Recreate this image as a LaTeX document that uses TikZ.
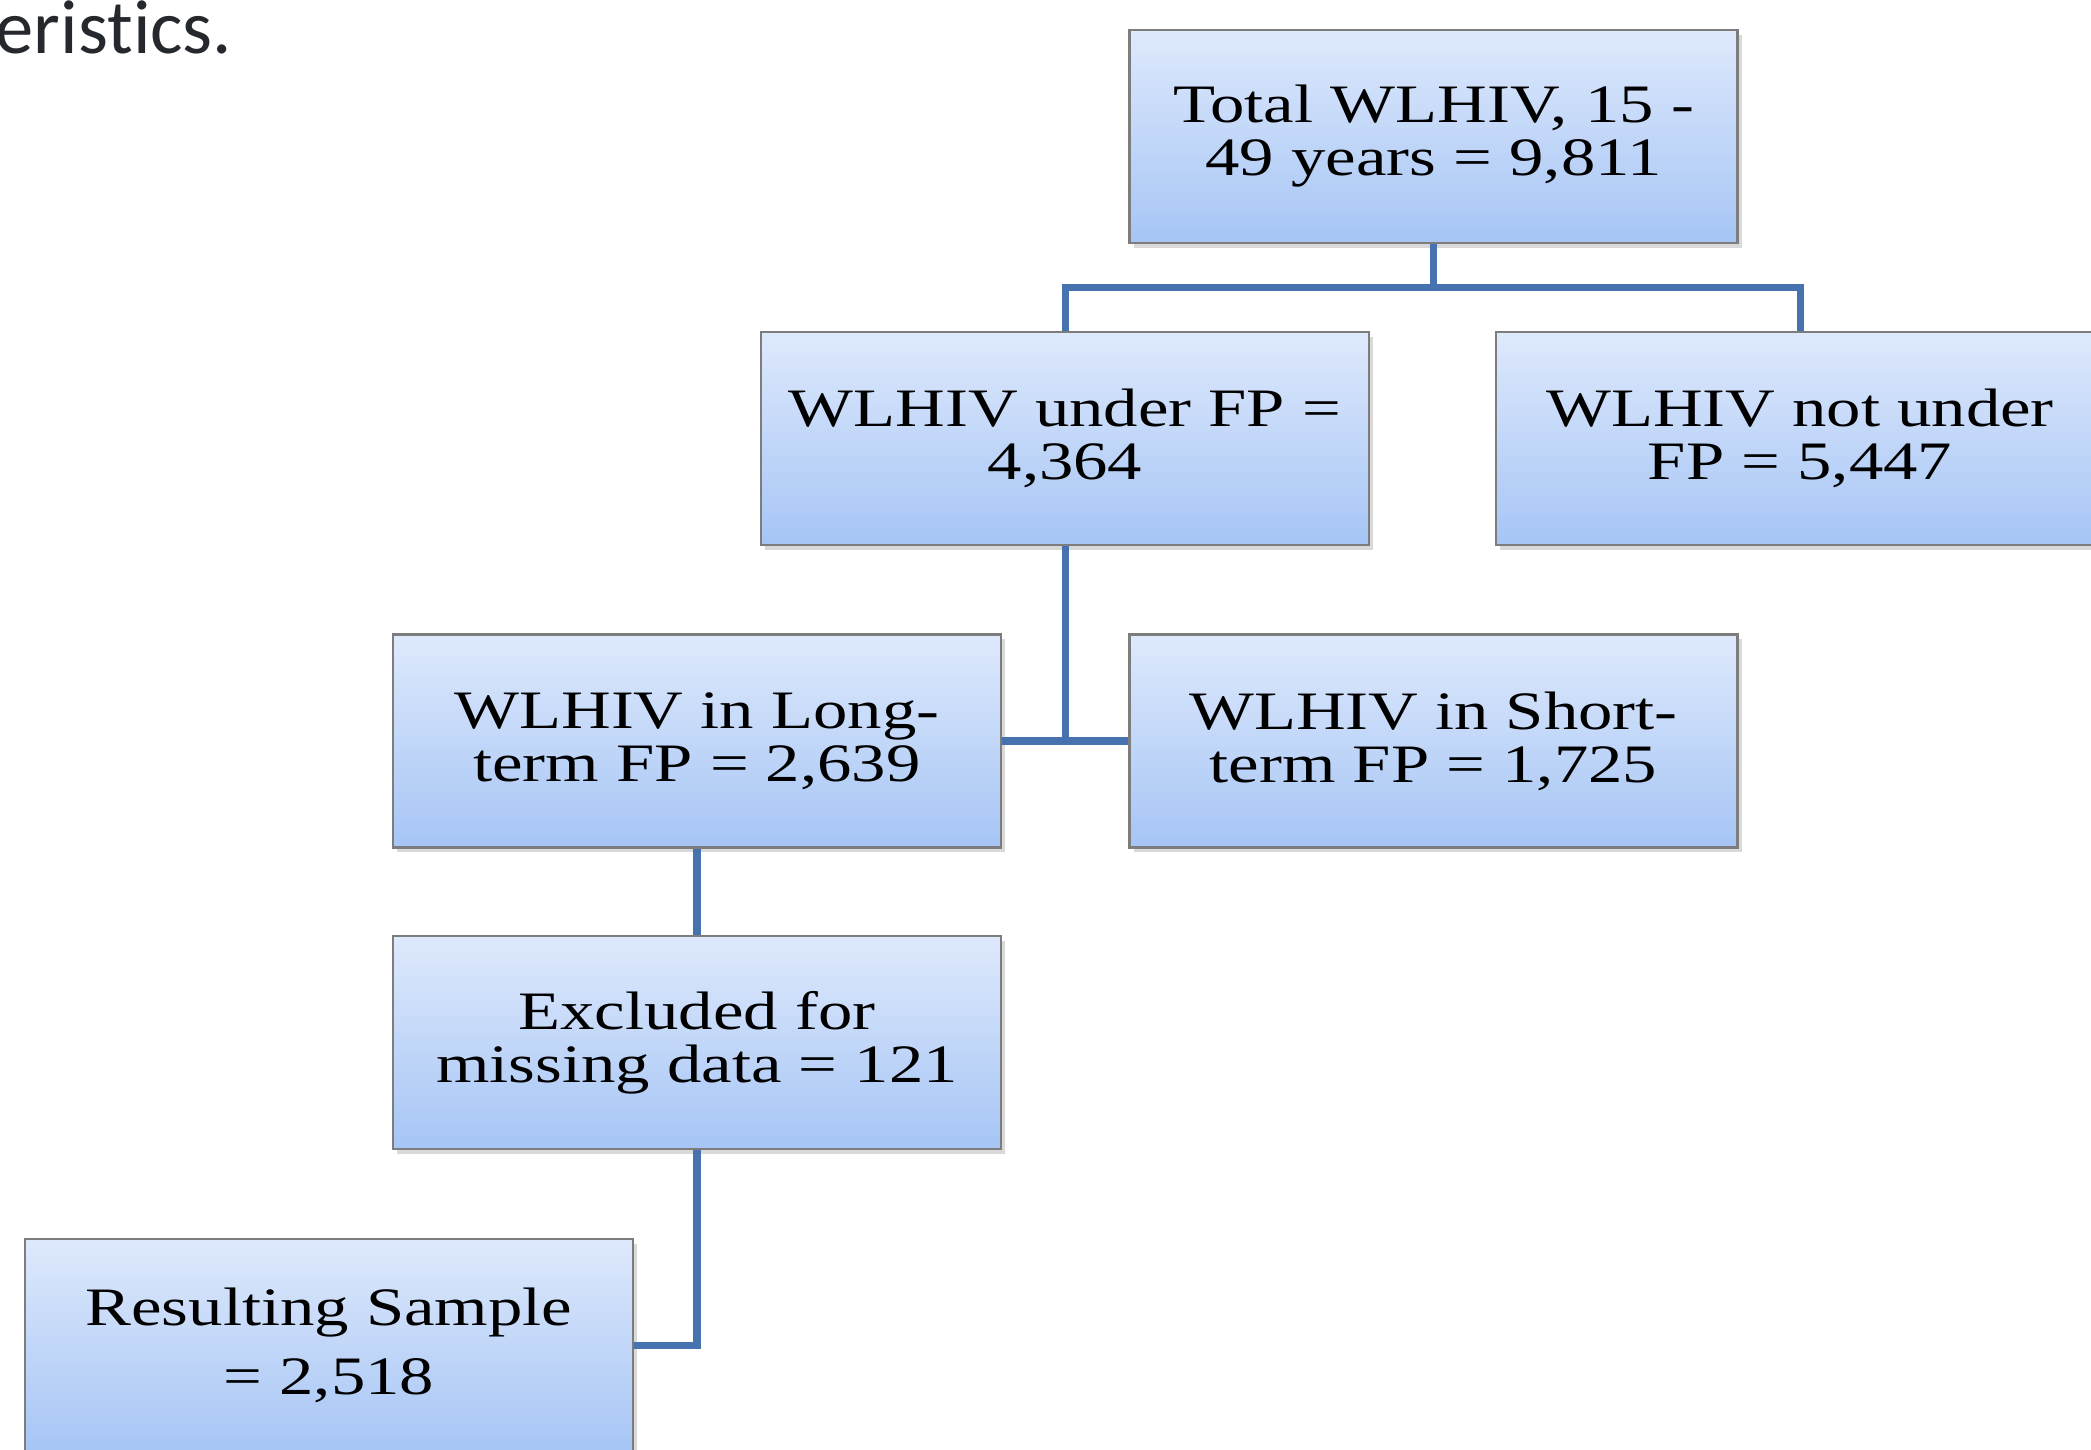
\documentclass[tikz,border=0pt]{standalone}
\usepackage{fontspec}
\setmainfont{Liberation Serif}[FakeStretch=1.27]
\newfontfamily\headfont{Carlito}[Ligatures=NoCommon]
\usetikzlibrary{shadows}

\definecolor{boxtop}{RGB}{222,233,252}
\definecolor{boxbot}{RGB}{166,197,245}
\definecolor{boxedge}{RGB}{125,125,125}
\definecolor{linkblue}{RGB}{70,114,176}
\definecolor{inktext}{RGB}{37,40,44}

\begin{document}
\begin{tikzpicture}[
  fpbox/.style={draw=boxedge, line width=0.6pt, top color=boxtop, bottom color=boxbot,
    minimum width=6.08cm, minimum height=2.13cm, align=center, inner sep=0pt,
    font=\fontsize{15.4}{15.1}\selectfont,
    drop shadow={shadow xshift=0.04cm, shadow yshift=-0.05cm, opacity=0.3}},
  link/.style={draw=linkblue, line width=2pt}
]
  \useasboundingbox (0,0) rectangle (20.91,14.49);

  % cut-off heading from the page
  \node[anchor=base east, inner sep=0pt, text=inktext, font=\headfont\fontsize{21.8}{25}\selectfont]
    (heading) at (2.33,13.95) {eristics.};

  % boxes
  \node[fpbox] (total)     at (14.335,13.125) {Total WLHIV, 15 -\\49 years = 9,811};
  \node[fpbox] (under)     at (10.65,10.105)  {WLHIV under FP =\\4,364};
  \node[fpbox] (notunder)  at (18.00,10.105)  {WLHIV not under\\FP = 5,447};
  \node[fpbox] (longterm)  at (6.97,7.08)     {WLHIV in Long-\\term FP = 2,639};
  \node[fpbox] (shortterm) at (14.335,7.08)   {WLHIV in Short-\\term FP = 1,725};
  \node[fpbox] (excluded)  at (6.97,4.065)    {Excluded for\\missing data = 121};
  \node[fpbox, font=\fontsize{15.4}{19.6}\selectfont]
               (sample)    at (3.29,1.035)    {Resulting Sample\\= 2,518};

  % connectors
  \draw[link] (total.south) -- ++(0,-0.43) -| (under.north);
  \draw[link] (total.south) -- ++(0,-0.43) -| (notunder.north);
  \draw[link] (under.south) |- (longterm.east);
  \draw[link] (under.south) |- (shortterm.west);
  \draw[link] (longterm.south) -- (excluded.north);
  \draw[link] (excluded.south) |- (sample.east);
\end{tikzpicture}
\end{document}
